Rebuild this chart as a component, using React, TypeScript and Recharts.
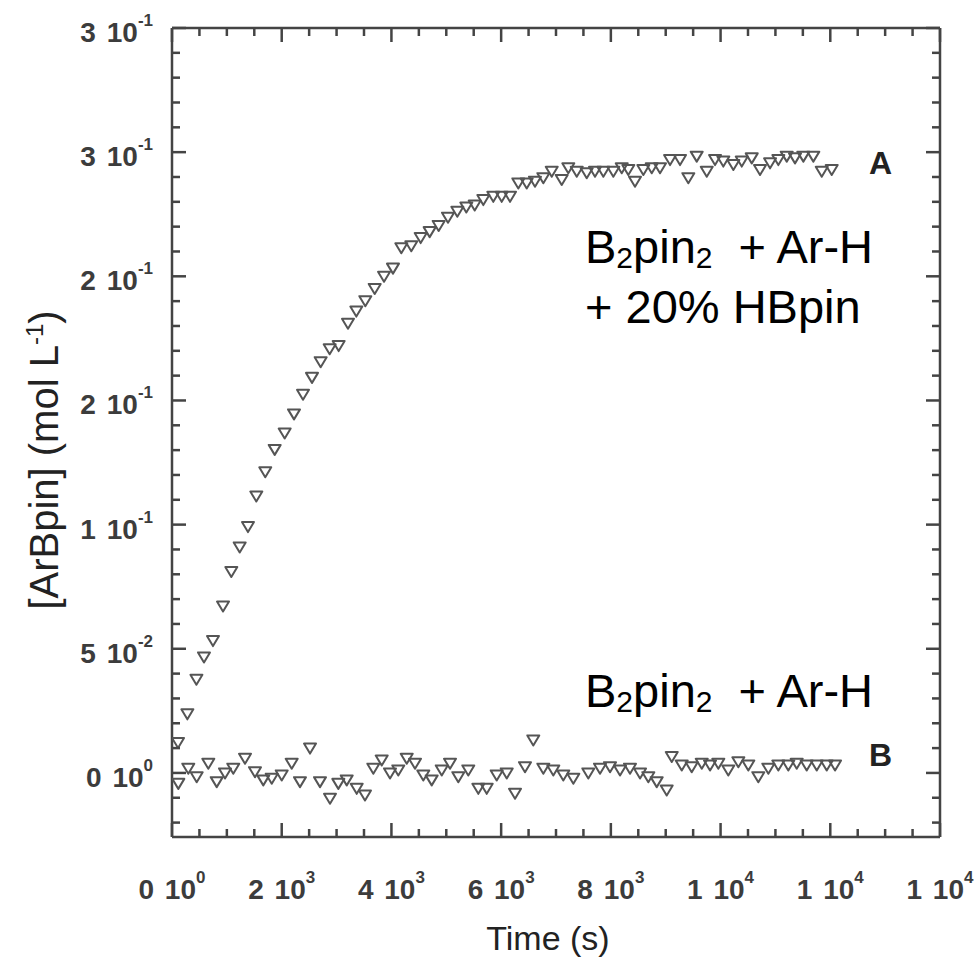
import { ScatterChart, Scatter, XAxis, YAxis, Customized } from "recharts";

// series A: B2pin2 + Ar-H + 20% HBpin
const aTime = [
  110, 280, 445, 583, 747, 930, 1081, 1234, 1385, 1537, 1700, 1872, 2054, 2224, 2388, 2552, 2710,
  2874, 3038, 3208, 3360, 3524, 3695, 3865, 4028, 4180, 4362, 4533, 4697, 4861, 5031, 5201, 5365,
  5518, 5675, 5857, 6010, 6162, 6313, 6466, 6617, 6769, 6922, 7104, 7224, 7378, 7560, 7711, 7863,
  8045, 8198, 8318, 8440, 8592, 8745, 8896, 9079, 9261, 9412, 9565, 9748, 9899, 10050, 10233,
  10386, 10568, 10719, 10902, 11053, 11206, 11357, 11509, 11691, 11844, 12026,
];
const aConc = [
  0.0123, 0.0238, 0.0377, 0.0467, 0.0533, 0.0672, 0.0811, 0.091, 0.0992, 0.1115, 0.1213, 0.1303,
  0.1369, 0.1446, 0.1525, 0.1593, 0.1656, 0.1708, 0.1721, 0.1811, 0.186, 0.1902, 0.1951, 0.2,
  0.2033, 0.2115, 0.2123, 0.2156, 0.218, 0.2205, 0.2238, 0.2262, 0.2279, 0.2287, 0.2309, 0.2322,
  0.2322, 0.2322, 0.2376, 0.2376, 0.2383, 0.2397, 0.2423, 0.239, 0.2437, 0.2423, 0.2417, 0.2423,
  0.2423, 0.2423, 0.2437, 0.243, 0.2383, 0.243, 0.2437, 0.2437, 0.247, 0.247, 0.2397, 0.2484,
  0.2423, 0.247, 0.2464, 0.245, 0.2464, 0.2477, 0.243, 0.2457, 0.247, 0.2484, 0.2477, 0.2484,
  0.2484, 0.2423, 0.243,
];

// series B: B2pin2 + Ar-H
const bTime = [
  115, 297, 450, 662, 815, 966, 1117, 1331, 1513, 1664, 1818, 2000, 2182, 2333, 2516, 2698, 2880,
  3032, 3185, 3367, 3518, 3670, 3823, 3974, 4125, 4279, 4430, 4581, 4734, 4917, 5068, 5219, 5401,
  5584, 5737, 5919, 6102, 6253, 6435, 6586, 6769, 6951, 7133, 7316, 7589, 7802, 7985, 8167, 8349,
  8532, 8683, 8836, 9018, 9110, 9292, 9474, 9657, 9808, 9959, 10141, 10324, 10506, 10688, 10871,
  11053, 11235, 11388, 11570, 11753, 11935, 12087,
];
const bConc = [
  -0.0042, 0.0019, -0.0015, 0.0039, -0.0035, 0, 0.0019, 0.0059, 0.0005, -0.0028, -0.0021, -0.0008,
  0.0039, -0.0035, 0.01, -0.0035, -0.0102, -0.0042, -0.0028, -0.0062, -0.0089, 0.0019, 0.0052, 0,
  0.0012, 0.0059, 0.0039, -0.0008, -0.0028, 0.0012, 0.0039, -0.0015, 0.0012, -0.0062, -0.0062,
  -0.0008, 0, -0.0082, 0.0025, 0.0133, 0.0019, 0.0012, -0.0008, -0.0021, 0, 0.0019, 0.0025, 0.0012,
  0.0019, 0, -0.0015, -0.0035, -0.0069, 0.0066, 0.0032, 0.0025, 0.0039, 0.0032, 0.0039, 0.0012,
  0.0045, 0.0032, -0.0015, 0.0019, 0.0032, 0.0032, 0.0039, 0.0032, 0.0032, 0.0032, 0.0032,
];

// axis ticks and their (rounded, as printed) labels
const xTicks = [
  0, 500, 1000, 1500, 2000, 2500, 3000, 3500, 4000, 4500, 5000, 5500, 6000, 6500, 7000, 7500, 8000,
  8500, 9000, 9500, 10000, 10500, 11000, 11500, 12000, 12500, 13000, 13500, 14000,
];
const xMajor = [0, 2000, 4000, 6000, 8000, 10000, 12000, 14000];
const xMantissa = ["0", "2", "4", "6", "8", "1", "1", "1"];
const xExponent = ["0", "3", "3", "3", "3", "4", "4", "4"];

const yTicks = [
  -0.02, -0.01, 0, 0.01, 0.02, 0.03, 0.04, 0.05, 0.06, 0.07, 0.08, 0.09, 0.1, 0.11, 0.12, 0.13,
  0.14, 0.15, 0.16, 0.17, 0.18, 0.19, 0.2, 0.21, 0.22, 0.23, 0.24, 0.25, 0.26, 0.27, 0.28, 0.29, 0.3,
];
const yMajor = [0, 0.05, 0.1, 0.15, 0.2, 0.25, 0.3];
const yMantissa = ["0", "5", "1", "2", "2", "3", "3"];
const yExponent = ["0", "-2", "-1", "-1", "-1", "-1", "-1"];

const AXIS = "#444";
const LABEL = "#3c3c3c";
const FONT = "'Liberation Sans', Arial, Helvetica, sans-serif";
const MAJOR_LEN = 14;
const MINOR_LEN = 8;

const seriesA = aTime.map((t, i) => ({ t, c: aConc[i] }));
const seriesB = bTime.map((t, i) => ({ t, c: bConc[i] }));

const majorIndex = (list: number[], v: number) => list.findIndex((m) => Math.abs(m - v) < 1e-7);

function TickText({ x, y, anchor, mantissa, exponent }: any) {
  return (
    <text x={x} y={y} textAnchor={anchor} fontFamily={FONT} fontWeight="bold" fontSize={28} fill={LABEL}>
      {mantissa}
      <tspan dx={3}>10</tspan>
      <tspan dy={-16} fontSize={17}>
        {exponent}
      </tspan>
    </text>
  );
}

function BottomTick({ x, y, payload }: any) {
  const i = majorIndex(xMajor, payload.value);
  const len = i >= 0 ? MAJOR_LEN : MINOR_LEN;
  return (
    <g>
      <line x1={x} y1={y} x2={x} y2={y - len} stroke={AXIS} strokeWidth={2.5} />
      {i >= 0 && (
        <TickText x={x} y={y + 62} anchor="middle" mantissa={xMantissa[i] + " "} exponent={xExponent[i]} />
      )}
    </g>
  );
}

function TopTick({ x, y, payload }: any) {
  const len = majorIndex(xMajor, payload.value) >= 0 ? MAJOR_LEN : MINOR_LEN;
  return <line x1={x} y1={y} x2={x} y2={y + len} stroke={AXIS} strokeWidth={2.5} />;
}

function LeftTick({ x, y, payload }: any) {
  const i = majorIndex(yMajor, payload.value);
  const len = i >= 0 ? MAJOR_LEN : MINOR_LEN;
  return (
    <g>
      <line x1={x} y1={y} x2={x + len} y2={y} stroke={AXIS} strokeWidth={2.5} />
      {i >= 0 && (
        <TickText x={x - 19} y={y + 14} anchor="end" mantissa={yMantissa[i] + " "} exponent={yExponent[i]} />
      )}
    </g>
  );
}

function RightTick({ x, y, payload }: any) {
  const len = majorIndex(yMajor, payload.value) >= 0 ? MAJOR_LEN : MINOR_LEN;
  return <line x1={x} y1={y} x2={x - len} y2={y} stroke={AXIS} strokeWidth={2.5} />;
}

function Triangle({ cx, cy }: any) {
  if (cx == null || cy == null) return null;
  return (
    <path
      d={`M${cx - 6},${cy - 4.5}L${cx + 6},${cy - 4.5}L${cx},${cy + 5.5}Z`}
      fill="none"
      stroke="#555"
      strokeWidth={2}
      strokeLinejoin="round"
    />
  );
}

function Annotations() {
  return (
    <g fontFamily={FONT}>
      <text x={548} y={950} textAnchor="middle" fontSize={34} fill="#222">
        Time (s)
      </text>
      <text x={58} y={460} transform="rotate(-90 58 460)" textAnchor="middle" fontSize={40} fill="#222">
        [ArBpin] (mol L<tspan dy={-15} fontSize={24}>-1</tspan>
        <tspan dy={15}>)</tspan>
      </text>

      <text x={585} y={263} fontSize={47} fill="#000">
        B<tspan dy={5} fontSize={30}>2</tspan>
        <tspan dy={-5}>pin</tspan>
        <tspan dy={5} fontSize={30}>2</tspan>
        <tspan dy={-5} dx={26}>+ Ar-H</tspan>
      </text>
      <text x={585} y={323} fontSize={47} fill="#000">
        + 20% HBpin
      </text>
      <text x={585} y={707} fontSize={47} fill="#000">
        B<tspan dy={5} fontSize={30}>2</tspan>
        <tspan dy={-5}>pin</tspan>
        <tspan dy={5} fontSize={30}>2</tspan>
        <tspan dy={-5} dx={26}>+ Ar-H</tspan>
      </text>

      <text x={869} y={174} fontSize={32} fontWeight="bold" fill="#222">
        A
      </text>
      <text x={869} y={766} fontSize={32} fontWeight="bold" fill="#222">
        B
      </text>
    </g>
  );
}

export default function App() {
  return (
    <div style={{ position: "absolute", left: 0, top: 0, width: 976, height: 959, background: "#fff" }}>
      <ScatterChart width={976} height={959} margin={{ top: 27, right: 35, bottom: 121, left: 171 }}>
        <XAxis
          xAxisId="bottom"
          orientation="bottom"
          type="number"
          dataKey="t"
          domain={[0, 14000]}
          ticks={xTicks}
          interval={0}
          height={1}
          tickSize={0}
          tickMargin={0}
          tickLine={false}
          axisLine={{ stroke: AXIS, strokeWidth: 2.5 }}
          tick={<BottomTick />}
          allowDataOverflow
        />
        <XAxis
          xAxisId="top"
          orientation="top"
          type="number"
          dataKey="t"
          domain={[0, 14000]}
          ticks={xTicks}
          interval={0}
          height={1}
          tickSize={0}
          tickMargin={0}
          tickLine={false}
          axisLine={{ stroke: AXIS, strokeWidth: 2.5 }}
          tick={<TopTick />}
          allowDataOverflow
        />
        <YAxis
          yAxisId="left"
          orientation="left"
          type="number"
          dataKey="c"
          domain={[-0.0258, 0.3]}
          ticks={yTicks}
          interval={0}
          width={1}
          tickSize={0}
          tickMargin={0}
          tickLine={false}
          axisLine={{ stroke: AXIS, strokeWidth: 2.5 }}
          tick={<LeftTick />}
          allowDataOverflow
        />
        <YAxis
          yAxisId="right"
          orientation="right"
          type="number"
          dataKey="c"
          domain={[-0.0258, 0.3]}
          ticks={yTicks}
          interval={0}
          width={1}
          tickSize={0}
          tickMargin={0}
          tickLine={false}
          axisLine={{ stroke: AXIS, strokeWidth: 2.5 }}
          tick={<RightTick />}
          allowDataOverflow
        />
        <Scatter
          data={seriesA}
          xAxisId="bottom"
          yAxisId="left"
          shape={<Triangle />}
          isAnimationActive={false}
        />
        <Scatter
          data={seriesB}
          xAxisId="bottom"
          yAxisId="left"
          shape={<Triangle />}
          isAnimationActive={false}
        />
        {/* invisible anchor so the top and right frame axes get a scale */}
        <Scatter data={[]} xAxisId="top" yAxisId="right" isAnimationActive={false} />
        <Customized component={Annotations} />
      </ScatterChart>
    </div>
  );
}
